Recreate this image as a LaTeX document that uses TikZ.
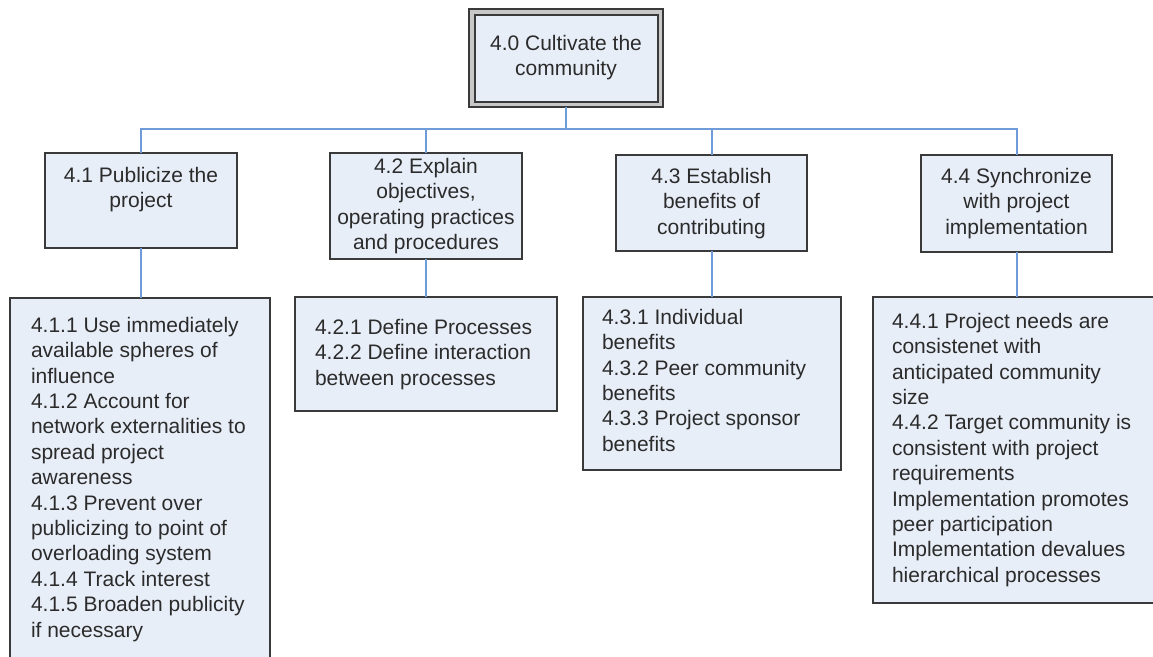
\documentclass[tikz,border=0pt]{standalone}
\usepackage{fontspec}
\setmainfont{Liberation Sans}
\definecolor{boxfill}{HTML}{E8EEF8}
\definecolor{boxline}{HTML}{3A3A3A}
\definecolor{connc}{HTML}{6F9BD9}
\definecolor{txtc}{HTML}{2B2B2B}
\definecolor{ringc}{HTML}{C8C8C8}
\begin{document}
\begin{tikzpicture}[x=1pt,y=-1pt,
  box/.style={draw=boxline, fill=boxfill, line width=2pt, inner sep=0pt, outer sep=0pt, anchor=north west},
  txt/.style={font=\fontsize{21pt}{25.4pt}\selectfont, text=txtc, inner sep=0pt, outer sep=0pt},
  connline/.style={draw=connc, line width=2pt}]
\useasboundingbox[fill=white] (0,0) rectangle (1153,656);
\begin{scope}
\clip (0,0) rectangle (1153,656);
% top box (double border)
\node[box, fill=ringc, line width=2.5pt, minimum width=194pt, minimum height=98pt] (top) at (469,9) {};
\node[box, minimum width=183pt, minimum height=87pt] (topin) at (474.5,14.5) {};
% second level
\node[box, minimum width=192pt, minimum height=95pt] (b41) at (45,153) {};
\node[box, minimum width=192pt, minimum height=106pt] (b42) at (330,153) {};
\node[box, minimum width=191pt, minimum height=96pt] (b43) at (616,155) {};
\node[box, minimum width=191pt, minimum height=97pt] (b44) at (921,155) {};
% third level
\node[box, minimum width=260pt, minimum height=380pt] (c41) at (10,298) {};
\node[box, minimum width=262pt, minimum height=114pt] (c42) at (295,297) {};
\node[box, minimum width=258pt, minimum height=173pt] (c43) at (583,297) {};
\node[box, minimum width=290pt, minimum height=306pt] (c44) at (873,297) {};
% connectors
\coordinate (bus) at (0,129);
\draw[connline] (top.south) -- (top.south |- bus);
\draw[connline] (b41.north) -- (b41.north |- bus) -- (b44.north |- bus) -- (b44.north);
\draw[connline] (b42.north) -- (b42.north |- bus);
\draw[connline] (b43.north) -- (b43.north |- bus);
\draw[connline] (b41.south) -- (b41.south |- c41.north);
\draw[connline] (b42.south) -- (b42.south |- c42.north);
\draw[connline] (b43.south) -- (b43.south |- c43.north);
\draw[connline] (b44.south) -- (b44.south |- c44.north);
% texts
\node[txt, anchor=north, align=center] (t40) at (566,35) {4.0 Cultivate the\\community};
\node[txt, anchor=north, align=center] (t41) at (141,167) {4.1 Publicize the\\project};
\node[txt, anchor=north, align=center] (t42) at (426,158) {4.2 Explain\\objectives,\\operating practices\\and procedures};
\node[txt, anchor=north, align=center] (t43) at (711.5,168) {4.3 Establish\\benefits of\\contributing};
\node[txt, anchor=north, align=center] (t44) at (1016.5,168) {4.4 Synchronize\\with project\\implementation};
\node[txt, anchor=north west, align=left] (t41x) at (31,317) {4.1.1 Use immediately\\available spheres of\\influence\\4.1.2 Account for\\network externalities to\\spread project\\awareness\\4.1.3 Prevent over\\publicizing to point of\\overloading system\\4.1.4 Track interest\\4.1.5 Broaden publicity\\if necessary};
\node[txt, anchor=north west, align=left] (t42x) at (315,319) {4.2.1 Define Processes\\4.2.2 Define interaction\\between processes};
\node[txt, anchor=north west, align=left] (t43x) at (602,309) {4.3.1 Individual\\benefits\\4.3.2 Peer community\\benefits\\4.3.3 Project sponsor\\benefits};
\node[txt, anchor=north west, align=left] (t44x) at (892,313) {4.4.1 Project needs are\\consistenet with\\anticipated community\\size\\4.4.2 Target community is\\consistent with project\\requirements\\Implementation promotes\\peer participation\\Implementation devalues\\hierarchical processes};
\end{scope}
\end{tikzpicture}
\end{document}
